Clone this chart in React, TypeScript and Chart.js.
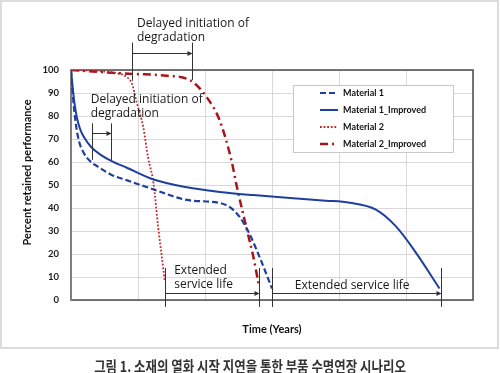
import React, { useEffect, useRef } from "react";
import { Chart, registerables } from "chart.js";

Chart.register(...registerables);

// ---- data ----
const seriesLabels = ["Material 1", "Material 1_Improved", "Material 2", "Material 2_Improved"];

const material1Years = [0, 0.03, 0.07, 0.12, 0.18, 0.28, 0.4, 0.6, 0.84, 1.19, 1.73, 2.22, 2.37, 2.52, 2.66, 2.81, 3.0];
const material1Values = [100, 88, 77, 69, 64.5, 60.5, 58, 54.5, 52, 48.5, 43.5, 42.2, 40.4, 36, 29, 19, 5];

const material1ImprovedYears = [0, 0.02, 0.05, 0.09, 0.14, 0.2, 0.3, 0.45, 0.6, 0.84, 1.22, 1.73, 2.22, 2.72, 3.27, 3.8, 4.16, 4.55, 4.85, 5.15, 5.5];
const material1ImprovedValues = [100, 94, 86, 79, 74, 70.5, 66.5, 63, 60.5, 57.4, 52.5, 49, 47, 45.6, 44.3, 43.2, 42.3, 39.3, 32, 20.5, 5];

const material2Years = [0, 0.45, 0.7, 0.83, 0.91, 0.98, 1.08, 1.15, 1.23, 1.3, 1.38, 1.4];
const material2Values = [100, 99.5, 98.5, 97, 94, 86, 75, 62, 51, 32, 13, 8];

const material2ImprovedYears = [0, 0.5, 0.93, 1.43, 1.78, 2.03, 2.22, 2.4, 2.47, 2.63, 2.72, 2.8];
const material2ImprovedValues = [100, 99, 98.3, 97.5, 95.5, 88, 78, 60, 50, 30, 19, 7];

const yTickStep = 10;
const xTitle = "Time (Years)";
const yTitle = "Percent retained performance";
const caption = "그림 1. 소재의 열화 시작 지연을 통한 부품 수명연장 시나리오";

// annotation spans, in data units (years / percent)
const annotationSpans = [
  { from: 0.915, to: 1.81, top: 111.9, bottomFrom: 95.3, bottomTo: 95.7, arrowAt: 107.3, textAt: 0.985, lines: ["Delayed initiation of", "degradation"], baselines: [118.6, 112.7] },
  { from: 0.31, to: 0.6, top: 76.8, bottomFrom: 60.9, bottomTo: 60.9, arrowAt: 72.7, textAt: 0.294, lines: ["Delayed initiation of", "degradation"], baselines: [85.5, 79.4] },
  { from: 1.4, to: 2.8, top: 13.9, bottomFrom: -3, bottomTo: -3, arrowAt: 2.9, textAt: 1.54, lines: ["Extended", "service life"], baselines: [11.2, 5.1] },
  { from: 3.0, to: 5.52, top: 13.9, bottomFrom: -3, bottomTo: -3, arrowAt: 2.9, textAt: 3.34, lines: ["Extended service life"], baselines: [4.6] },
];

const BLUE = "#1f3f9f";
const RED_DOT = "#c0282d";
const RED = "#a8141c";

const styles = [
  { color: BLUE, width: 2.2, dash: [6, 3] },
  { color: BLUE, width: 2, dash: [] as number[] },
  { color: RED_DOT, width: 1.8, dash: [1.8, 1.8] },
  { color: RED, width: 2.5, dash: [8, 4, 2, 4] },
];

const seriesYears = [material1Years, material1ImprovedYears, material2Years, material2ImprovedYears];
const seriesValues = [material1Values, material1ImprovedValues, material2Values, material2ImprovedValues];

const decorPlugin = {
  id: "decor",
  beforeDatasetsDraw(chart: any) {
    const { ctx, chartArea: a } = chart;
    ctx.save();
    ctx.strokeStyle = "#4a4a4a";
    ctx.lineWidth = 1.5;
    ctx.strokeRect(a.left, a.top, a.right - a.left, a.bottom - a.top);
    ctx.strokeStyle = "#7f7f7f";
    ctx.lineWidth = 2;
    ctx.beginPath();
    ctx.moveTo(a.left, a.top);
    ctx.lineTo(a.left, a.bottom);
    ctx.stroke();
    ctx.restore();
  },
  afterDatasetsDraw(chart: any) {
    const { ctx, chartArea: a } = chart;
    // legend box
    const left = a.right - 180;
    const top = a.top + 15;
    ctx.save();
    ctx.fillStyle = "#ffffff";
    ctx.fillRect(left, top, 160, 67);
    ctx.strokeStyle = "#c8c8c8";
    ctx.lineWidth = 1;
    ctx.strokeRect(left + 0.5, top + 0.5, 160, 67);
    ctx.font = "bold 9px Lato";
    ctx.textBaseline = "middle";
    ctx.textAlign = "left";
    chart.data.datasets.forEach((ds: any, i: number) => {
      const y = top + 8 + i * 17;
      ctx.strokeStyle = ds.borderColor;
      ctx.lineWidth = ds.borderWidth;
      ctx.setLineDash(ds.borderDash || []);
      ctx.beginPath();
      ctx.moveTo(left + 27, y);
      ctx.lineTo(left + 45, y);
      ctx.stroke();
      ctx.setLineDash([]);
      ctx.fillStyle = "#111";
      ctx.fillText(ds.label, left + 50, y);
    });
    ctx.restore();
  },
  afterDraw(chart: any) {
    const { ctx, chartArea: a } = chart;
    const xs = chart.scales.x;
    const ys = chart.scales.y;
    ctx.save();
    // axis titles
    ctx.fillStyle = "#111";
    ctx.font = "bold 11px Lato";
    ctx.textAlign = "center";
    ctx.textBaseline = "middle";
    ctx.fillText(xTitle, (a.left + a.right) / 2, a.bottom + 29);
    ctx.save();
    ctx.translate(27, (a.top + a.bottom) / 2 - 12.5);
    ctx.rotate(-Math.PI / 2);
    ctx.fillText(yTitle, 0, 0);
    ctx.restore();

    // annotations
    ctx.strokeStyle = "#333";
    ctx.fillStyle = "#333";
    ctx.lineWidth = 1;
    annotationSpans.forEach((s) => {
      const x1 = Math.round(xs.getPixelForValue(s.from)) + 0.5;
      const x2 = Math.round(xs.getPixelForValue(s.to)) + 0.5;
      const yt = ys.getPixelForValue(s.top);
      const yb1 = ys.getPixelForValue(s.bottomFrom);
      const yb2 = ys.getPixelForValue(s.bottomTo);
      const ya = Math.round(ys.getPixelForValue(s.arrowAt)) + 0.5;
      ctx.beginPath();
      ctx.moveTo(x1, yt);
      ctx.lineTo(x1, yb1);
      ctx.moveTo(x2, yt);
      ctx.lineTo(x2, yb2);
      ctx.moveTo(x1, ya);
      ctx.lineTo(x2 - 4, ya);
      ctx.stroke();
      ctx.beginPath();
      ctx.moveTo(x2, ya);
      ctx.lineTo(x2 - 5, ya - 2.5);
      ctx.lineTo(x2 - 5, ya + 2.5);
      ctx.closePath();
      ctx.fill();
    });
    ctx.fillStyle = "#1a1a1a";
    ctx.font = "12px 'Open Sans'";
    ctx.textAlign = "left";
    ctx.textBaseline = "alphabetic";
    annotationSpans.forEach((s) => {
      const tx = xs.getPixelForValue(s.textAt);
      s.lines.forEach((line, i) => {
        ctx.fillText(line, tx, ys.getPixelForValue(s.baselines[i]));
      });
    });
    ctx.restore();
  },
};

export default function App() {
  const canvasRef = useRef<HTMLCanvasElement | null>(null);

  useEffect(() => {
    if (!canvasRef.current) return;
    const datasets = seriesLabels.map((label, i) => ({
      label,
      data: seriesYears[i].map((x, j) => ({ x, y: seriesValues[i][j] })),
      borderColor: styles[i].color,
      backgroundColor: styles[i].color,
      borderWidth: styles[i].width,
      borderDash: styles[i].dash,
      pointRadius: 0,
      fill: false,
      cubicInterpolationMode: "monotone" as const,
    }));
    const chart = new Chart(canvasRef.current, {
      type: "line",
      data: { datasets },
      options: {
        responsive: false,
        animation: false,
        devicePixelRatio: 1,
        layout: { padding: { left: 0, top: 70, right: 27, bottom: 0 } },
        plugins: { legend: { display: false }, tooltip: { enabled: false } },
        scales: {
          x: {
            type: "linear",
            min: 0,
            max: 6,
            ticks: { display: false, stepSize: 1 },
            grid: { color: "#d9d9d9", drawTicks: false },
            border: { display: false },
            afterFit: (s: any) => {
              s.height = 73;
            },
          },
          y: {
            min: 0,
            max: 100,
            ticks: {
              stepSize: yTickStep,
              padding: 12,
              color: "#1a1a1a",
              font: { family: "Lato", weight: "bold", size: 9.5 },
            },
            grid: { color: "#d9d9d9", drawTicks: false },
            border: { display: false },
            afterFit: (s: any) => {
              s.width = 71;
            },
          },
        },
      } as any,
      plugins: [decorPlugin],
    });
    return () => chart.destroy();
  }, []);

  return (
    <div style={{ position: "absolute", left: 0, top: 0, width: 500, height: 373, background: "#fff", overflow: "hidden" }}>
      <div
        style={{
          position: "absolute",
          left: 0,
          top: 0,
          width: 499,
          height: 349,
          border: "2px solid #dcdcdc",
          boxSizing: "border-box",
        }}
      />
      <canvas
        ref={canvasRef}
        width={500}
        height={373}
        style={{ position: "absolute", left: 0, top: 0, width: 500, height: 373 }}
      />
      <div
        style={{
          position: "absolute",
          left: 0,
          top: 358,
          width: 500,
          textAlign: "center",
          fontFamily: "'Noto Sans CJK KR', sans-serif",
          fontSize: 15,
          fontWeight: 700,
          lineHeight: "15px",
          color: "#333",
          whiteSpace: "nowrap",
          transform: "scaleX(0.83)",
          transformOrigin: "250px 0",
        }}
      >
        {caption}
      </div>
    </div>
  );
}
